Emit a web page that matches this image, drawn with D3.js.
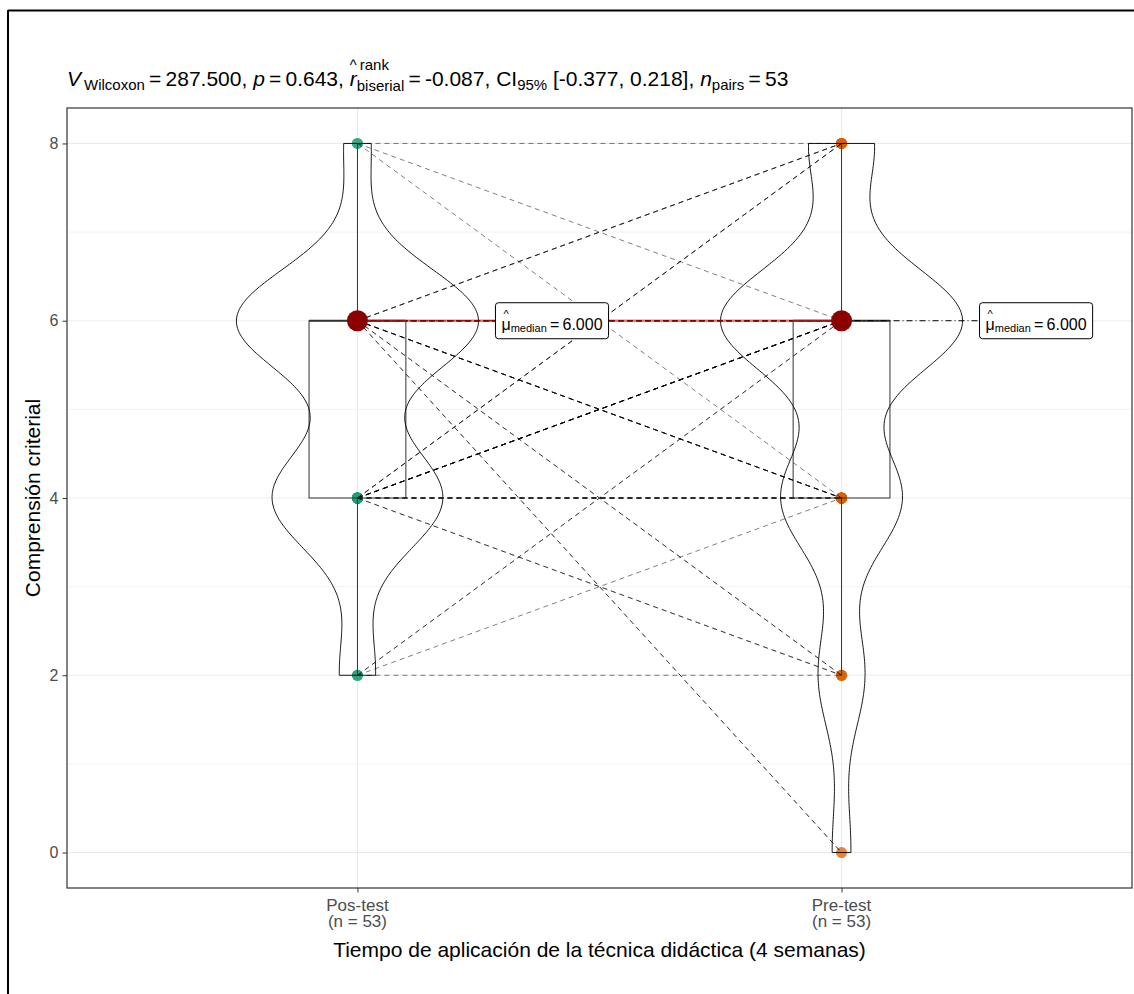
<!DOCTYPE html>
<html>
<head>
<meta charset="utf-8">
<script src="https://cdn.jsdelivr.net/npm/d3@7"></script>
<style>
  body { margin: 0; background: #fff; }
  text { font-family: "Liberation Sans", Arial, sans-serif; }
</style>
</head>
<body>
<div id="chart"></div>
<script>
// paired observations, same index = same student
var conditions = ["Pos-test", "Pre-test"];
var posTest = [6,4,6,8,4,6,2,6,4,6, 6,4,6,8,6,4,2,6,6,4, 6,4,6,6,8,4,6,2,4,6,
               6,4,6,4,6,2,4,6,6,4, 6,4,6,6,4,6,4,6,4,6, 4,6,4];
var preTest = [6,4,8,8,6,4,2,6,6,2, 6,8,0,6,6,4,6,6,4,6, 6,2,8,6,4,4,6,4,6,6,
               4,8,6,6,2,6,4,6,0,6, 6,2,4,6,4,8,6,6,8,4, 4,6,6];
var yTicks = [0, 2, 4, 6, 8];
var yMinor = [1, 3, 5, 7];
var groupColors = ["#1b9e77", "#d95f02"];
var statText = { V: "287.500", p: "0.643", r: "-0.087", ci: "[-0.377, 0.218]", n: "53" };
var xTitle = "Tiempo de aplicación de la técnica didáctica (4 semanas)";
var yTitle = "Comprensión criterial";

var W = 1134, H = 994;
var svg = d3.select("#chart").append("svg")
    .attr("width", W)
    .attr("height", H);

var mL = 67, mR = 1132, mT = 108, mB = 888;

var x = d3.scalePoint().domain(conditions).range([mL, mR]).padding(0.6);
var y = d3.scaleLinear().domain([-0.4, 8.4]).range([mB, mT]);
var step = x.step();

var groups = [posTest, preTest];

// outer frame of the figure (only top and left visible)
svg.append("line").attr("x1", 8).attr("x2", W).attr("y1", 10.5).attr("y2", 10.5)
    .attr("stroke", "#000").attr("stroke-width", 2);
svg.append("line").attr("x1", 8).attr("x2", 8).attr("y1", 10).attr("y2", H)
    .attr("stroke", "#000").attr("stroke-width", 2);

// grid
var grid = svg.append("g");
grid.selectAll(".minor").data(yMinor).enter().append("line")
    .attr("x1", mL).attr("x2", mR)
    .attr("y1", function(d){ return y(d); }).attr("y2", function(d){ return y(d); })
    .attr("stroke", "#f0f0f0").attr("stroke-width", 0.8);
grid.selectAll(".major").data(yTicks).enter().append("line")
    .attr("x1", mL).attr("x2", mR)
    .attr("y1", function(d){ return y(d); }).attr("y2", function(d){ return y(d); })
    .attr("stroke", "#ebebeb").attr("stroke-width", 1.2);
grid.selectAll(".vmajor").data(conditions).enter().append("line")
    .attr("x1", function(d){ return x(d); }).attr("x2", function(d){ return x(d); })
    .attr("y1", mT).attr("y2", mB)
    .attr("stroke", "#ebebeb").attr("stroke-width", 1.2);

// raw points
groups.forEach(function(vals, gi){
    svg.append("g").selectAll("circle")
        .data(vals)
        .enter()
        .append("circle")
        .attr("cx", x(conditions[gi]))
        .attr("cy", function(d){ return y(d); })
        .attr("r", 5.5)
        .attr("fill", groupColors[gi])
        .attr("fill-opacity", 0.5);
});

// paired dashed lines
svg.append("g").selectAll("line")
    .data(posTest.map(function(d, i){ return [d, preTest[i]]; }))
    .enter()
    .append("line")
    .attr("x1", x(conditions[0]))
    .attr("x2", x(conditions[1]))
    .attr("y1", function(d){ return y(d[0]); })
    .attr("y2", function(d){ return y(d[1]); })
    .attr("stroke", "#000")
    .attr("stroke-opacity", 0.5)
    .attr("stroke-width", 1)
    .attr("stroke-dasharray", "5,4");

// stats per group
function stats(vals){
    var s = vals.slice().sort(d3.ascending);
    var q1 = d3.quantile(s, 0.25), med = d3.quantile(s, 0.5), q3 = d3.quantile(s, 0.75);
    var iqr = q3 - q1;
    var lo = d3.min(s.filter(function(v){ return v >= q1 - 1.5 * iqr; }));
    var hi = d3.max(s.filter(function(v){ return v <= q3 + 1.5 * iqr; }));
    return { s: s, q1: q1, med: med, q3: q3, iqr: iqr, lo: lo, hi: hi };
}
var st = groups.map(stats);

// boxplots
var boxW = 0.2 * step;
st.forEach(function(b, gi){
    var cx = x(conditions[gi]);
    var g = svg.append("g").attr("stroke", "#333").attr("stroke-width", 1).attr("fill", "none");
    g.append("line").attr("x1", cx).attr("x2", cx).attr("y1", y(b.hi)).attr("y2", y(b.q3));
    g.append("line").attr("x1", cx).attr("x2", cx).attr("y1", y(b.q1)).attr("y2", y(b.lo));
    g.append("rect").attr("x", cx - boxW / 2).attr("width", boxW)
        .attr("y", y(b.q3)).attr("height", y(b.q1) - y(b.q3));
    g.append("line").attr("x1", cx - boxW / 2).attr("x2", cx + boxW / 2)
        .attr("y1", y(b.med)).attr("y2", y(b.med)).attr("stroke-width", 2);
});

// violins (gaussian kde, nrd0 bandwidth, trimmed)
st.forEach(function(b, gi){
    var vals = groups[gi];
    var n = vals.length;
    var bw = 0.9 * Math.min(d3.deviation(vals), b.iqr / 1.34) * Math.pow(n, -0.2);
    var mn = b.s[0], mx = b.s[n - 1];
    var pts = d3.range(0, 257).map(function(i){
        var v = mn + (mx - mn) * i / 256;
        var d = d3.sum(vals, function(u){ var z = (v - u) / bw; return Math.exp(-0.5 * z * z); });
        return [v, d];
    });
    var maxD = d3.max(pts, function(p){ return p[1]; });
    var half = 0.25 * step;
    var cx = x(conditions[gi]);
    var outline = pts.map(function(p){ return [cx - half * p[1] / maxD, y(p[0])]; })
        .concat(pts.slice().reverse().map(function(p){ return [cx + half * p[1] / maxD, y(p[0])]; }));
    svg.append("path")
        .attr("d", d3.line()(outline) + "Z")
        .attr("fill", "none")
        .attr("stroke", "#000")
        .attr("stroke-width", 0.9);
});

// median labels connectors
var labelOffset = 138;
st.forEach(function(b, gi){
    var cx = x(conditions[gi]);
    svg.append("line").attr("x1", cx).attr("x2", cx + labelOffset)
        .attr("y1", y(b.med)).attr("y2", y(b.med))
        .attr("stroke", "#000").attr("stroke-width", 1)
        .attr("stroke-dasharray", "6,3,1,3");
});

// centrality path
svg.append("line")
    .attr("x1", x(conditions[0])).attr("x2", x(conditions[1]))
    .attr("y1", y(st[0].med)).attr("y2", y(st[1].med))
    .attr("stroke", "red").attr("stroke-opacity", 0.55).attr("stroke-width", 2.6);

svg.append("g").selectAll("circle")
    .data(st)
    .enter()
    .append("circle")
    .attr("cx", function(d, i){ return x(conditions[i]); })
    .attr("cy", function(d){ return y(d.med); })
    .attr("r", 10.5)
    .attr("fill", "#8b0000");

// rich text helper: pieces laid out left to right
function nb(s){ return s.replace(/ /g, "\u00a0"); }
function rich(g, x0, y0, pieces, baseSize){
    var cur = x0;
    pieces.forEach(function(p){
        var size = p.size || baseSize;
        if (p.stack) {
            var a = g.append("text").attr("x", cur + (p.supShift || 0)).attr("y", y0 + p.supDy)
                .attr("font-size", p.size).attr("fill", "#000").text(nb(p.sup));
            var b = g.append("text").attr("x", cur).attr("y", y0 + p.subDy)
                .attr("font-size", p.size).attr("fill", "#000").text(nb(p.sub));
            cur += Math.max(a.node().getComputedTextLength() + (p.supShift || 0), b.node().getComputedTextLength());
            return;
        }
        var t = g.append("text").attr("x", cur).attr("y", y0 + (p.dy || 0))
            .attr("font-size", size)
            .attr("fill", "#000")
            .attr("font-style", p.italic ? "italic" : null)
            .text(nb(p.t));
        var w = t.node().getComputedTextLength();
        if (p.hat) {
            g.append("text").attr("x", cur + w / 2 + (p.hatShift || 0)).attr("y", y0 - size * (p.hatUp || 0.62))
                .attr("font-size", size * 0.7).attr("text-anchor", "middle")
                .attr("fill", "#000").text("^");
        }
        cur += w + (p.gap || 0);
    });
    return cur - x0;
}

// median labels
st.forEach(function(b, gi){
    var lx = x(conditions[gi]) + labelOffset;
    var ly = y(b.med);
    var g = svg.append("g");
    var box = g.append("rect");
    var tg = g.append("g");
    var w = rich(tg, lx + 6, ly + 9, [
        { t: "\u03bc", hat: true, hatUp: 0.75 },
        { t: "median", size: 11, dy: 2 },
        { t: "\u2009=\u2009" + b.med.toFixed(3) }
    ], 16);
    box.attr("x", lx).attr("y", ly - 18).attr("width", w + 12).attr("height", 36)
        .attr("rx", 3).attr("fill", "#fff").attr("stroke", "#000").attr("stroke-width", 1);
});

// panel border
svg.append("rect").attr("x", mL).attr("y", mT)
    .attr("width", mR - mL).attr("height", mB - mT)
    .attr("fill", "none").attr("stroke", "#333").attr("stroke-width", 1.2);

// axes
var yAxis = svg.append("g").attr("transform", "translate(" + mL + ",0)")
    .call(d3.axisLeft(y).tickValues(yTicks).tickSize(4.5).tickPadding(4));
yAxis.select(".domain").remove();
yAxis.selectAll("line").attr("stroke", "#333");
yAxis.selectAll("text").attr("font-size", 16).attr("fill", "#4d4d4d")
    .attr("font-family", "Liberation Sans, Arial, sans-serif");

var xAxis = svg.append("g").attr("transform", "translate(0," + mB + ")")
    .call(d3.axisBottom(x).tickSize(4.5).tickPadding(3).tickFormat(""));
xAxis.select(".domain").remove();
xAxis.selectAll("line").attr("stroke", "#333");
conditions.forEach(function(c, gi){
    var t = svg.append("text").attr("x", x(c)).attr("y", 911)
        .attr("text-anchor", "middle").attr("font-size", 17).attr("fill", "#4d4d4d");
    t.append("tspan").attr("x", x(c)).text(c);
    t.append("tspan").attr("x", x(c)).attr("dy", 16).text("(n = " + groups[gi].length + ")");
});

svg.append("text").attr("x", (mL + mR) / 2).attr("y", 957)
    .attr("text-anchor", "middle").attr("font-size", 21).text(xTitle);
svg.append("text").attr("transform", "translate(40," + ((mT + mB) / 2) + ") rotate(-90)")
    .attr("text-anchor", "middle").attr("font-size", 21).text(yTitle);

// subtitle with statistics
var eq = "\u2009=\u2009";
rich(svg.append("g"), mL, 86, [
    { t: "V", italic: true, gap: 3 },
    { t: "Wilcoxon", size: 15, dy: 4 },
    { t: eq + statText.V + ", " },
    { t: "p", italic: true },
    { t: eq + statText.p + ", " },
    { t: "r", italic: true, hat: true, hatShift: 0, hatUp: 0.78 },
    { stack: true, sup: "rank", sub: "biserial", size: 15, supDy: -16, subDy: 5, supShift: 3 },
    { t: eq + statText.r + ", CI" },
    { t: "95%", size: 15, dy: 4 },
    { t: " " + statText.ci + ", " },
    { t: "n", italic: true },
    { t: "pairs", size: 15, dy: 4 },
    { t: eq + statText.n }
], 21);
</script>
</body>
</html>
